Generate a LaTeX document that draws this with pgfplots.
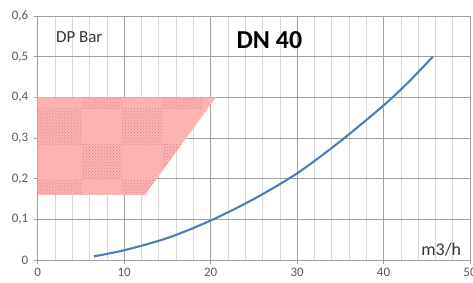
\documentclass[border=0pt]{standalone}
\usepackage{pgfplots}
\pgfplotsset{compat=1.18}
\usepackage{fontspec}
\setmainfont{Carlito}
\usetikzlibrary{patterns}
\definecolor{pinkc}{RGB}{255,178,178}
\definecolor{dotc}{RGB}{205,130,138}
\definecolor{linec}{RGB}{74,126,187}
\definecolor{tickc}{RGB}{89,89,89}
\definecolor{majg}{RGB}{160,160,160}
\definecolor{ming}{RGB}{215,215,215}
\begin{document}
\begin{tikzpicture}
\begin{axis}[name=ax,
  scale only axis, width=432.3bp, height=244bp,
  xmin=0, xmax=50, ymin=0, ymax=0.6,
  xtick={0,10,20,30,40,50},
  ytick={0,0.1,0.2,0.3,0.4,0.5,0.6},
  yticklabels={0,{0,1},{0,2},{0,3},{0,4},{0,5},{0,6}},
  minor x tick num=4,
  grid=both,
  major grid style={majg, line width=0.6pt},
  minor grid style={ming, line width=0.5pt},
  minor y tick style={draw=none},
  axis line style={majg, line width=0.6pt},
  tick align=outside, major tick length=4bp, minor tick length=0pt,
  tick style={majg, line width=0.6pt},
  xtick pos=bottom, ytick pos=left,
  /pgf/number format/assume math mode=true,
  tick label style={font=\fontsize{13}{15}\selectfont, text=tickc},
  xticklabel style={yshift=-1bp},
  yticklabel style={xshift=-2bp},
  clip=false,
]
% red zone
\addplot[fill=pinkc, draw=none] coordinates {(0,0.16) (12.4,0.16) (20.6,0.4) (0,0.4)} -- cycle;
% checker dotted cells
\addplot[pattern=crosshatch dots, pattern color=dotc, draw=none] coordinates {(5.1,0.373) (9.75,0.373) (9.75,0.4) (5.1,0.4)} -- cycle;
\addplot[pattern=crosshatch dots, pattern color=dotc, draw=none] coordinates {(14.4,0.373) (19.05,0.373) (19.05,0.4) (14.4,0.4)} -- cycle;
\addplot[pattern=crosshatch dots, pattern color=dotc, draw=none] coordinates {(0,0.285) (5.1,0.285) (5.1,0.373) (0,0.373)} -- cycle;
\addplot[pattern=crosshatch dots, pattern color=dotc, draw=none] coordinates {(9.75,0.285) (14.4,0.285) (14.4,0.373) (9.75,0.373)} -- cycle;
\addplot[pattern=crosshatch dots, pattern color=dotc, draw=none] coordinates {(5.1,0.198) (9.75,0.198) (9.75,0.285) (5.1,0.285)} -- cycle;
\addplot[pattern=crosshatch dots, pattern color=dotc, draw=none] coordinates {(14.4,0.2185) (16.67,0.285) (14.4,0.285)} -- cycle;
\addplot[pattern=crosshatch dots, pattern color=dotc, draw=none] coordinates {(0,0.16) (5.1,0.16) (5.1,0.198) (0,0.198)} -- cycle;
\addplot[pattern=crosshatch dots, pattern color=dotc, draw=none] coordinates {(9.75,0.16) (12.4,0.16) (13.7,0.198) (9.75,0.198)} -- cycle;
% curve
\addplot[linec, line width=2.1pt, smooth] coordinates {
(6.5,0.009) (10,0.024) (15,0.054) (20,0.097) (25,0.150) (30,0.213) (35,0.292) (40,0.380) (43,0.440) (45.7,0.500)};
\node[anchor=center, text=black!80, font=\fontsize{17}{20}\selectfont] at (axis cs:4.8,0.548) {DP Bar};
\node[anchor=center, text=black, font=\fontsize{26}{30}\selectfont\bfseries] at (axis cs:26.8,0.54) {DN 40};
\node[anchor=base east, inner sep=0pt, text=black!80, font=\fontsize{18}{21}\selectfont] at (axis cs:49.0,0.012) {m3/h};
\end{axis}
\pgfresetboundingbox
\path ([xshift=-37.7bp,yshift=-22bp]ax.south west) rectangle ([xshift=3bp,yshift=16bp]ax.north east);
\end{tikzpicture}
\end{document}
